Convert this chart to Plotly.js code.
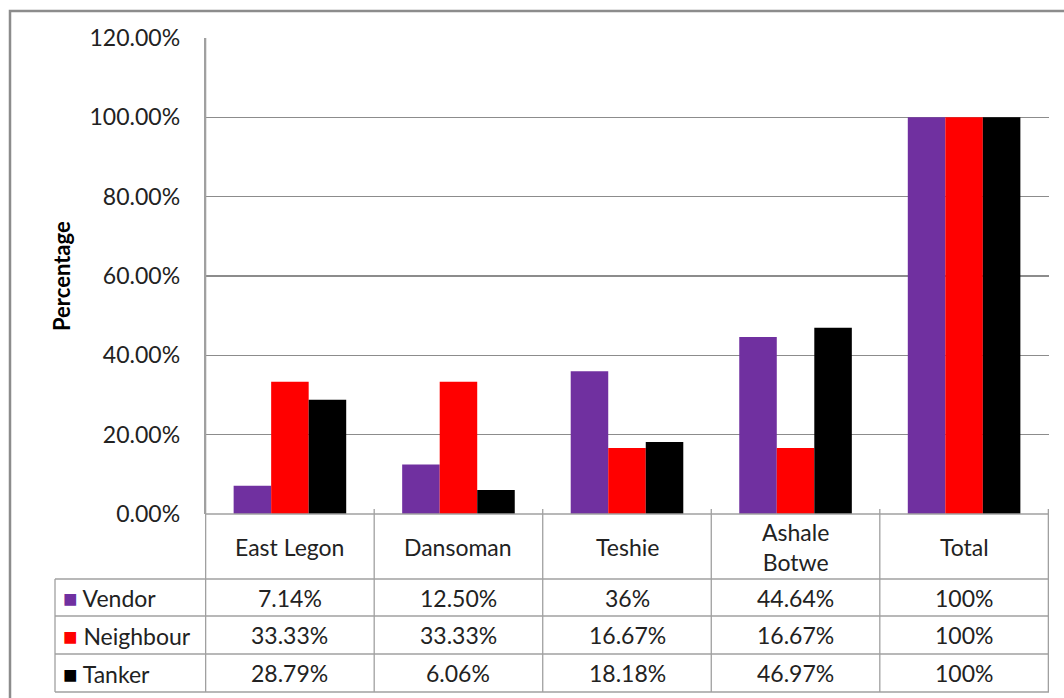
<!DOCTYPE html>
<html>
<head>
<meta charset="utf-8">
<script src="https://cdn.plot.ly/plotly-3.0.1.min.js"></script>
<style>html,body{margin:0;padding:0;background:#fff;}#chart{width:1064px;height:698px;}</style>
</head>
<body>
<div id="chart"></div>
<script>
// ---- data ----
const categories = ['East Legon', 'Dansoman', 'Teshie', 'Ashale Botwe', 'Total'];
const headerLabels = ['East Legon', 'Dansoman', 'Teshie', 'Ashale<br>Botwe', 'Total'];
const seriesNames = ['Vendor', 'Neighbour', 'Tanker'];
const vendor = [0.0714, 0.1250, 0.36, 0.4464, 1.00];
const neighbour = [0.3333, 0.3333, 0.1667, 0.1667, 1.00];
const tanker = [0.2879, 0.0606, 0.1818, 0.4697, 1.00];
const vendorText = ['7.14%', '12.50%', '36%', '44.64%', '100%'];
const neighbourText = ['33.33%', '33.33%', '16.67%', '16.67%', '100%'];
const tankerText = ['28.79%', '6.06%', '18.18%', '46.97%', '100%'];
const yTickVals = [0, 0.2, 0.4, 0.6, 0.8, 1.0, 1.2];
const yTickText = ['0.00%', '20.00%', '40.00%', '60.00%', '80.00%', '100.00%', '120.00%'];

// ---- style ----
const colors = ['#7030A0', '#FF0000', '#000000'];
const FONT = 'Lato, "Open Sans", sans-serif';
const FS = 23;
const W = 1064, H = 698;
const L = 205, R = 1049, T = 38, B = 514;
const px = X => (X - L) / (R - L);
const py = Y => (B - Y) / (B - T);
const rowLines = [579, 616, 654, 692];
const rowCenters = [(579 + 616) / 2, (616 + 654) / 2, (654 + 692) / 2];
const tableColor = '#a0a0a0';

const seriesVals = [vendor, neighbour, tanker];
const seriesTexts = [vendorText, neighbourText, tankerText];

const traces = seriesNames.map((n, i) => ({
  type: 'bar', name: n, x: categories, y: seriesVals[i],
  marker: {color: colors[i], line: {width: 0}},
  hoverinfo: 'x+y'
}));

const shapes = [];
// outer chart border
shapes.push({type: 'rect', xref: 'paper', yref: 'paper', x0: px(10), x1: px(1100), y0: py(11), y1: py(740),
  line: {color: '#8c8c8c', width: 2.5}, fillcolor: 'rgba(0,0,0,0)', layer: 'below'});
// table horizontal lines
rowLines.forEach(Y => shapes.push({type: 'line', xref: 'paper', yref: 'paper',
  x0: px(55), x1: 1, y0: py(Y), y1: py(Y), line: {color: tableColor, width: 1.3}}));
// x axis line
shapes.push({type: 'line', xref: 'paper', yref: 'paper', x0: 0, x1: 1, y0: 0, y1: 0, line: {color: tableColor, width: 1.3}});
// left of legend column
shapes.push({type: 'line', xref: 'paper', yref: 'paper', x0: px(55), x1: px(55), y0: py(579), y1: py(692), line: {color: tableColor, width: 1.3}});
// category separators (incl. left & right edges)
for (let i = 0; i <= categories.length; i++) {
  const xv = i - 0.5;
  shapes.push({type: 'line', xref: 'x', yref: 'paper', x0: xv, x1: xv,
    y0: i === 0 ? 1 : py(509), y1: py(692), line: {color: tableColor, width: 1.3}});
}

const annotations = [];
// header row
headerLabels.forEach((c, i) => annotations.push({xref: 'x', yref: 'paper', x: categories[i], y: py(546.5),
  text: c, showarrow: false, xanchor: 'center', yanchor: 'middle', font: {family: FONT, size: FS, color: '#222'}}));
// rows
seriesNames.forEach((n, s) => {
  annotations.push({xref: 'paper', yref: 'paper', x: px(61), y: py(rowCenters[s]), xanchor: 'left', yanchor: 'middle',
    showarrow: false, text: '<span style="color:' + colors[s] + ';font-size:24px">■</span> ' + n,
    font: {family: FONT, size: FS, color: '#222'}});
  seriesTexts[s].forEach((t, i) => annotations.push({xref: 'x', yref: 'paper', x: categories[i], y: py(rowCenters[s]),
    text: t, showarrow: false, xanchor: 'center', yanchor: 'middle', font: {family: FONT, size: FS, color: '#222'}}));
});
// y axis title
annotations.push({xref: 'paper', yref: 'paper', x: px(61), y: 0.5, xanchor: 'center', yanchor: 'middle',
  text: '<b>Percentage</b>', textangle: -90, showarrow: false, font: {family: FONT, size: 22, color: '#000'}});

const layout = {
  width: W, height: H,
  margin: {l: L, r: W - R, t: T, b: H - B, pad: 0},
  paper_bgcolor: '#fff', plot_bgcolor: '#fff',
  barmode: 'group', bargap: 0.332, bargroupgap: 0,
  showlegend: false,
  font: {family: FONT, size: FS, color: '#222'},
  xaxis: {type: 'category', showticklabels: false, showgrid: false, zeroline: false, showline: false, ticks: '', fixedrange: true},
  yaxis: {range: [0, 1.2], tickvals: yTickVals, ticktext: yTickText, showgrid: true, gridcolor: '#8c8c8c', gridwidth: 1.3,
    zeroline: false, showline: true, linecolor: tableColor, linewidth: 1.3,
    ticks: 'outside', ticklen: 19, tickcolor: 'rgba(0,0,0,0)', tickfont: {family: FONT, size: FS, color: '#222'}, fixedrange: true},
  shapes: shapes,
  annotations: annotations
};

Plotly.newPlot('chart', traces, layout, {staticPlot: true, displayModeBar: false});
</script>
</body>
</html>
